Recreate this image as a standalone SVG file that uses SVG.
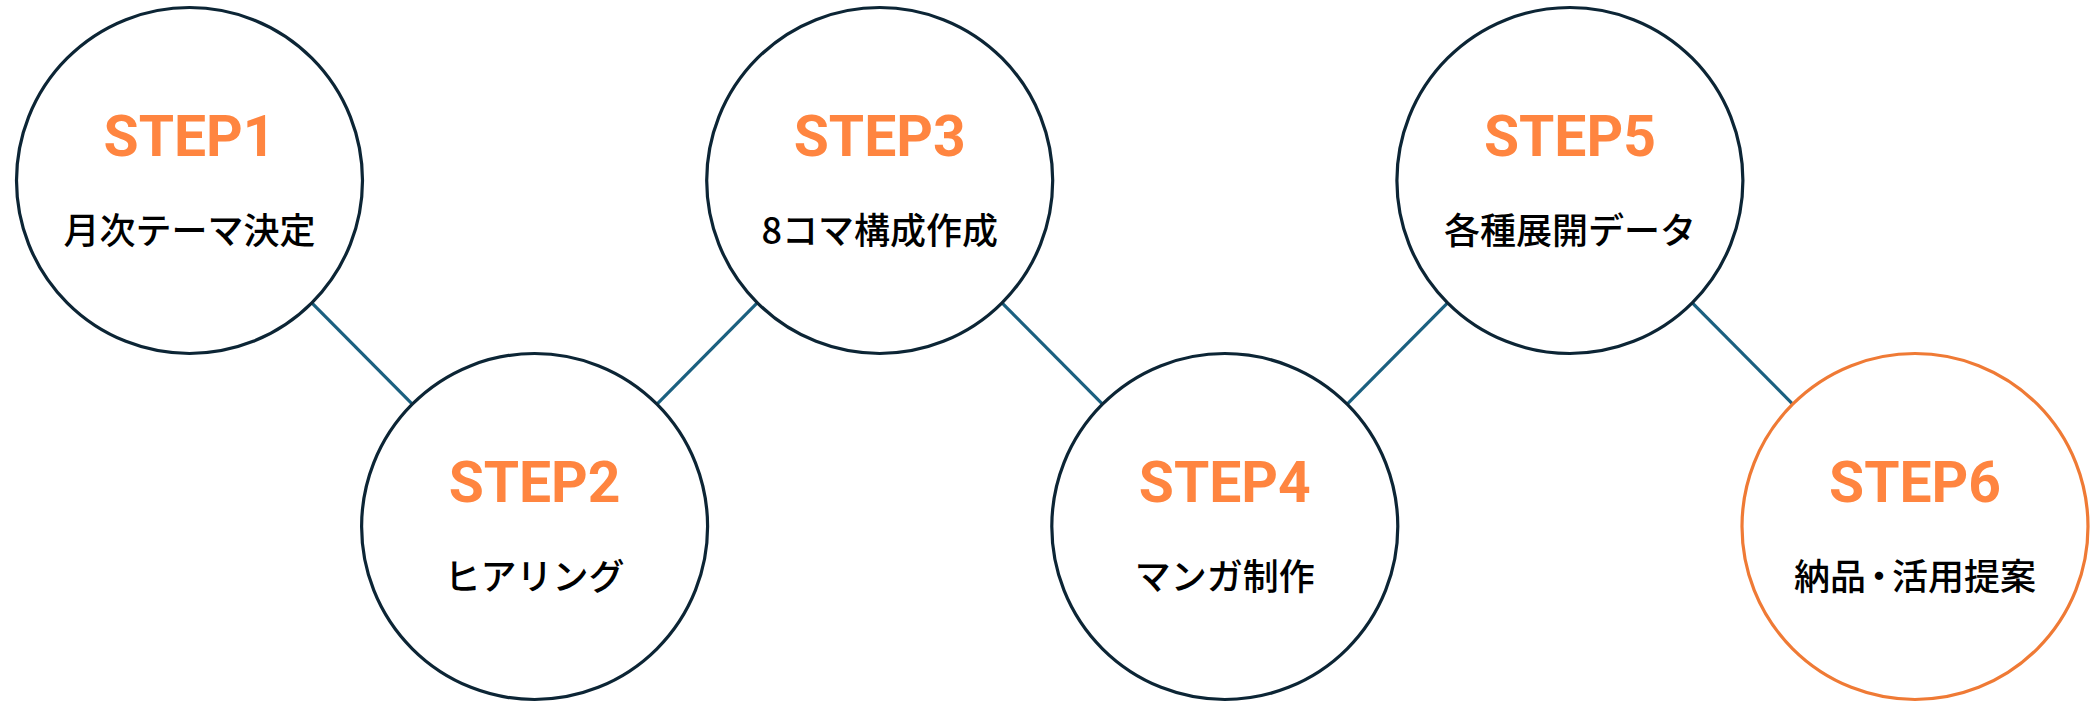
<svg xmlns="http://www.w3.org/2000/svg" width="2090" height="702" viewBox="0 0 2090 702">
<style>
.c{fill:#fff;stroke:#0c2535;stroke-width:3.2}
.c.last{stroke:#ef7a35}
.s{font-family:Roboto,"Liberation Sans",sans-serif;font-weight:700;font-size:57px;fill:#ff8540;text-anchor:middle}
.j{font-family:"Noto Sans CJK JP","Noto Sans",sans-serif;font-weight:500;font-size:36px;fill:#000;text-anchor:middle}
.l{stroke:#1b6080;stroke-width:3.2;fill:none}
</style>
<rect width="2090" height="702" fill="#fff"/>
<g id="connectors">
<line class="l" x1="311.8" y1="302.9" x2="412.3" y2="404.1"/>
<line class="l" x1="657" y1="404.1" x2="757.2" y2="302.9"/>
<line class="l" x1="1002" y1="302.9" x2="1102.5" y2="404.1"/>
<line class="l" x1="1347.2" y1="404.1" x2="1447.6" y2="302.9"/>
<line class="l" x1="1692.3" y1="302.9" x2="1792.7" y2="404.1"/>
</g>
<g id="step1"><circle class="c" cx="189.5" cy="180.5" r="173"/><text class="s" x="189.5" y="156">STEP1</text><text class="j" x="189.5" y="243.5">月次テーマ決定</text></g>
<g id="step2"><circle class="c" cx="534.6" cy="526.5" r="173"/><text class="s" x="534.6" y="502">STEP2</text><text class="j" x="534.6" y="589.5">ヒアリング</text></g>
<g id="step3"><circle class="c" cx="879.7" cy="180.5" r="173"/><text class="s" x="879.7" y="156">STEP3</text><text class="j" x="879.7" y="243.5">8コマ構成作成</text></g>
<g id="step4"><circle class="c" cx="1224.8" cy="526.5" r="173"/><text class="s" x="1224.8" y="502">STEP4</text><text class="j" x="1224.8" y="589.5">マンガ制作</text></g>
<g id="step5"><circle class="c" cx="1569.9" cy="180.5" r="173"/><text class="s" x="1569.9" y="156">STEP5</text><text class="j" x="1569.9" y="243.5">各種展開データ</text></g>
<g id="step6"><circle class="c last" cx="1915" cy="526.5" r="173"/><text class="s" x="1915" y="502">STEP6</text><text class="j" x="1915" y="589.5">納品<tspan dx="-5">・</tspan><tspan dx="-5">活用提案</tspan></text></g>
</svg>
